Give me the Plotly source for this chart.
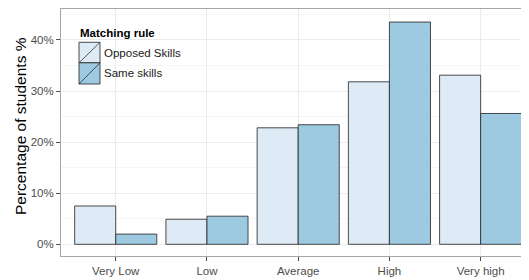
import plotly.graph_objects as go

categories = ["Very Low", "Low", "Average", "High", "Very high"]
opposed = [7.5, 4.9, 22.8, 31.8, 33.1]
same = [2.0, 5.5, 23.4, 43.5, 25.6]
series_names = ["Opposed Skills", "Same skills"]
colors = ["#DEEBF7", "#9ECAE1"]
y_ticks = [0, 10, 20, 30, 40]
y_tick_labels = ["0%", "10%", "20%", "30%", "40%"]

# page has an 8px body margin; the figure is offset by it
OFF = 8
W, H = 529 - OFF, 280 - OFF
# plot area in page pixels: x 61..529, y 9..256
ml, mr, mt, mb = 61 - OFF, 0, 9 - OFF, 280 - 256

fig = go.Figure()
for name, vals, col in zip(series_names, [opposed, same], colors):
    fig.add_trace(go.Bar(
        x=list(range(len(categories))), y=vals, name=name,
        marker=dict(color=col, line=dict(color="rgba(45,45,45,0.85)", width=1)),
        showlegend=False,
    ))

fig.update_layout(
    width=W, height=H,
    margin=dict(l=ml, r=mr, t=mt, b=mb, autoexpand=False),
    barmode="group", bargap=0.1, bargroupgap=0,
    plot_bgcolor="white", paper_bgcolor="white",
    font=dict(family="Liberation Sans, Arial, sans-serif", color="#4D4D4D", size=12),
    xaxis=dict(
        tickmode="array", tickvals=list(range(len(categories))), ticktext=categories,
        range=[-0.6, 4.53], showgrid=True, gridcolor="#EBEBEB", gridwidth=1,
        showline=True, linecolor="#A6A6A6", linewidth=1, mirror=True,
        ticks="outside", ticklen=4, tickcolor="#4D4D4D", zeroline=False,
        tickfont=dict(size=11.5, color="#4D4D4D"), automargin=False,
    ),
    yaxis=dict(
        tickmode="array", tickvals=y_ticks, ticktext=y_tick_labels,
        range=[-2.29, 46.05], showgrid=True, gridcolor="#EBEBEB", gridwidth=1,
        minor=dict(tickvals=[5, 15, 25, 35, 45], showgrid=True, gridcolor="#F5F5F5", gridwidth=1),
        showline=True, linecolor="#A6A6A6", linewidth=1, mirror=True,
        ticks="outside", ticklen=4, tickcolor="#4D4D4D", zeroline=False,
        tickfont=dict(size=11.5, color="#4D4D4D"), automargin=False,
    ),
)

pw, ph = W - ml - mr, H - mt - mb
def px(x):  # page x -> paper
    return (x - OFF - ml) / pw
def py(y):  # page y -> paper
    return (H - mb - (y - OFF)) / ph

# y axis title
fig.add_annotation(xref="paper", yref="paper", x=px(20), y=py(126), xanchor="center", yanchor="middle",
                   text="Percentage of students %", textangle=-90, showarrow=False,
                   font=dict(size=15.5, color="black"))

# custom legend with diagonal-slash keys (ggplot style)
key_x0, key_x1 = 79, 100
key_rows = [(42.3, 62.8), (62.8, 84)]
shapes = []
for (y0, y1), col in zip(key_rows, colors):
    shapes.append(dict(type="rect", xref="paper", yref="paper",
                       x0=px(key_x0), x1=px(key_x1), y0=py(y1), y1=py(y0),
                       fillcolor=col, line=dict(color="rgba(45,45,45,0.85)", width=1)))
    shapes.append(dict(type="line", xref="paper", yref="paper",
                       x0=px(key_x0), x1=px(key_x1), y0=py(y1), y1=py(y0),
                       line=dict(color="rgba(30,30,30,0.9)", width=0.8)))
fig.update_layout(shapes=shapes)

fig.add_annotation(xref="paper", yref="paper", x=px(78), y=py(33), xanchor="left", yanchor="middle",
                   text="<b>Matching rule</b>", showarrow=False, font=dict(size=11.5, color="black"))
for (y0, y1), name in zip(key_rows, series_names):
    fig.add_annotation(xref="paper", yref="paper", x=px(101.5), y=py((y0 + y1) / 2), xanchor="left",
                       yanchor="middle", text=name, showarrow=False, font=dict(size=11.5, color="#1a1a1a"))

fig.write_html("out.html")
